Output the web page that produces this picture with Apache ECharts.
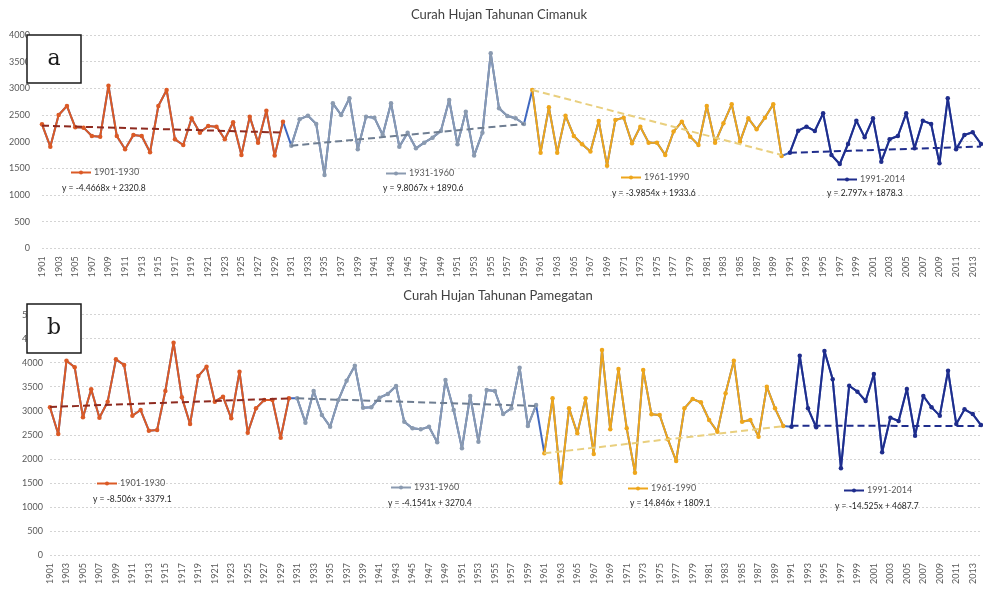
<!DOCTYPE html>
<html>
<head>
<meta charset="utf-8">
<script src="https://cdn.jsdelivr.net/npm/echarts@6/dist/echarts.min.js"></script>
<style>
  html, body { margin: 0; padding: 0; background: #ffffff; }
  #chart { width: 983px; height: 591px; }
</style>
</head>
<body>
<div id="chart"></div>
<script>
// Year categories shared by both panels
const years = [];
for (let y = 1901; y <= 2014; y++) years.push(String(y));

const yTicksCimanuk = { min: 0, max: 4000, step: 500 };
const yTicksPamegatan = { min: 0, max: 5000, step: 500 };

// Cimanuk annual rainfall (mm), by period
const cimanuk1901 = [2325,1906,2500,2669,2269,2263,2106,2094,3050,2106,1856,2125,2106,1800,2669,2969,2044,1938,2438,2169,2294,2281,2044,2363,1750,2469,1981,2581,1738,2375];
const cimanuk1931 = [1925,2419,2488,2331,1375,2719,2500,2813,1856,2469,2450,2125,2719,1906,2169,1875,1981,2075,2200,2781,1950,2563,1738,2169,3656,2625,2481,2438,2331];
const cimanuk1960 = [2969,1794,2644,1794,2488,2106,1950,1813,2388,1550,2406,2450,1969,2281,1981,1981,1750,2188,2375,2094,1938,2669,1981,2344,2700,2000,2438,2231,2450,2700,1731];
const cimanuk1991 = [1794,2206,2281,2200,2531,1750,1581,1956,2394,2081,2438,1625,2044,2106,2531,1875,2394,2331,1594,2813,1856,2125,2175,1956];

// Pamegatan annual rainfall (mm), by period
const pamegatan1901 = [3071,2516,4041,3903,2863,3445,2856,3189,4069,3951,2898,3015,2586,2600,3411,4416,3279,2724,3722,3917,3189,3293,2842,3813,2544,3050,3223,3223,2440,3258];
const pamegatan1931 = [3258,2752,3411,2911,2669,3223,3625,3937,3064,3071,3272,3348,3515,2773,2634,2613,2669,2343,3639,3015,2218,3307,2357,3431,3411,2932,3050,3896,2683,3119];
const pamegatan1961 = [2114,3258,1504,3050,2530,3258,2100,4263,2613,3868,2634,1712,3847,2925,2911,2405,1955,3050,3244,3175,2807,2565,3362,4041,2773,2807,2461,3501,3050,2683];
const pamegatan1991 = [2669,4145,3050,2655,4242,3653,1802,3521,3397,3203,3764,2135,2856,2787,3452,2482,3307,3071,2898,3833,2724,3029,2932,2703];

// Trend lines: [start year, start value, end year, end value]
const cimanukTrends = [
  ['1901', 2300, '1930', 2170],
  ['1931', 1925, '1959', 2330],
  ['1960', 2969, '1990', 1750],
  ['1991', 1792, '2014', 1908]
];
const pamegatanTrends = [
  ['1901', 3080, '1930', 3258],
  ['1931', 3258, '1960', 3100],
  ['1961', 2114, '1990', 2680],
  ['1991', 2690, '2014', 2682]
];

const periodNames = ['1901-1930', '1931-1960', '1961-1990', '1991-2014'];
const cimanukEquations = ['y = -4.4668x + 2320.8', 'y = 9.8067x + 1890.6', 'y = -3.9854x + 1933.6', 'y = 2.797x + 1878.3'];
const pamegatanEquations = ['y = -8.506x + 3379.1', 'y = -4.1541x + 3270.4', 'y = 14.846x + 1809.1', 'y = -14.525x + 4687.7'];

const lineColors = ['#db5a26', '#8a9ab0', '#eea61c', '#1f2d8c'];
const trendColors = ['#8e2a1f', '#6f7e92', '#e9cf7e', '#1f2d8c'];
const linkColor = '#3f68c0';

const FONT = 'Lato, "Liberation Sans", sans-serif';

function periodSeries(gridIndex, blocks, trends) {
  const out = [];
  const full = [].concat(...blocks);
  // connecting line through every year, drawn underneath the periods
  out.push({
    name: 'all' + gridIndex, type: 'line', xAxisIndex: gridIndex, yAxisIndex: gridIndex,
    data: full, symbol: 'none', z: 1, silent: true,
    lineStyle: { color: linkColor, width: 2 }
  });
  let offset = 0;
  blocks.forEach((vals, i) => {
    const data = years.map((_, k) => (k >= offset && k < offset + vals.length) ? vals[k - offset] : null);
    offset += vals.length;
    out.push({
      name: periodNames[i], type: 'line', xAxisIndex: gridIndex, yAxisIndex: gridIndex,
      data, connectNulls: false, symbol: 'circle', symbolSize: 4.5, z: 3,
      itemStyle: { color: lineColors[i] },
      lineStyle: { color: lineColors[i], width: 2 }
    });
  });
  trends.forEach((t, i) => {
    out.push({
      name: 'trend' + gridIndex + '_' + i, type: 'line', xAxisIndex: gridIndex, yAxisIndex: gridIndex,
      data: [[t[0], t[1]], [t[2], t[3]]], symbol: 'none', z: 4, silent: true,
      lineStyle: { color: trendColors[i], width: 2, type: [7, 4] }
    });
  });
  return out;
}

function xAxisFor(gridIndex) {
  return {
    type: 'category', gridIndex, data: years, boundaryGap: false,
    axisLine: { show: false }, axisTick: { show: false },
    axisLabel: { rotate: 90, interval: 1, fontSize: 9, color: '#595959', margin: 8, fontFamily: FONT },
    splitLine: { show: false }
  };
}
function yAxisFor(gridIndex, ticks, margin) {
  return {
    type: 'value', gridIndex, min: ticks.min, max: ticks.max, interval: ticks.step,
    axisLine: { show: false }, axisTick: { show: false },
    axisLabel: { fontSize: 9, color: '#595959', margin, fontFamily: FONT, formatter: v => String(v) },
    splitLine: { lineStyle: { color: '#d4d4d4', type: [2, 2], width: 1 } }
  };
}

const legendPosA = [[70, 174], [385, 175], [620, 179], [836, 181]];
const legendPosB = [[96, 485], [390, 489], [627, 490], [843, 492]];
const eqPosA = [[62, 188], [383, 188], [612, 193], [827, 193]];
const eqPosB = [[93, 499], [388, 503], [630, 503], [835, 506]];

const legends = [];
[legendPosA, legendPosB].forEach(pos => {
  pos.forEach((p, i) => {
    legends.push({
      data: [periodNames[i]], left: p[0], top: p[1] - 6, padding: 0,
      itemWidth: 20, itemHeight: 5, itemGap: 2, selectedMode: false,
      textStyle: { fontSize: 9, color: '#595959', fontFamily: FONT, padding: [0, 0, 0, -2] }
    });
  });
});

const graphics = [];
function addTitle(text, x, y) {
  graphics.push({ type: 'text', x, y, z: 10,
    style: { text, fill: '#404040', font: '13px ' + FONT, textAlign: 'center', textVerticalAlign: 'middle' } });
}
addTitle('Curah Hujan Tahunan Cimanuk', 499, 15);
addTitle('Curah Hujan Tahunan Pamegatan', 498, 296);

function addEquations(list, pos) {
  list.forEach((t, i) => {
    graphics.push({ type: 'text', x: pos[i][0], y: pos[i][1], z: 10,
      style: { text: t, fill: '#262626', font: '8.5px ' + FONT, textVerticalAlign: 'middle' } });
  });
}
addEquations(cimanukEquations, eqPosA);
addEquations(pamegatanEquations, eqPosB);

function addPanelTag(letter, x, y, w, h) {
  graphics.push({ type: 'rect', z: 20, shape: { x, y, width: w, height: h },
    style: { fill: '#ffffff', stroke: '#1a1a1a', lineWidth: 1.5 } });
  graphics.push({ type: 'text', z: 21, x: x + w / 2, y: y + h / 2,
    style: { text: letter, fill: '#1a1a1a', font: '22px "DejaVu Serif", "Liberation Serif", serif',
      textAlign: 'center', textVerticalAlign: 'middle' } });
}
addPanelTag('a', 27, 35, 54, 48);
addPanelTag('b', 27, 304, 54, 49);

const option = {
  animation: false,
  backgroundColor: '#ffffff',
  grid: [
    { left: 42, right: 2, top: 35, height: 213.3 },
    { left: 50, right: 2, top: 314.6, height: 240.4 }
  ],
  xAxis: [xAxisFor(0), xAxisFor(1)],
  yAxis: [yAxisFor(0, yTicksCimanuk, 12), yAxisFor(1, yTicksPamegatan, 7)],
  legend: legends,
  series: [
    ...periodSeries(0, [cimanuk1901, cimanuk1931, cimanuk1960, cimanuk1991], cimanukTrends),
    ...periodSeries(1, [pamegatan1901, pamegatan1931, pamegatan1961, pamegatan1991], pamegatanTrends)
  ],
  graphic: graphics
};

const chart = echarts.init(document.getElementById('chart'), null, { renderer: 'canvas' });
chart.setOption(option);
</script>
</body>
</html>
